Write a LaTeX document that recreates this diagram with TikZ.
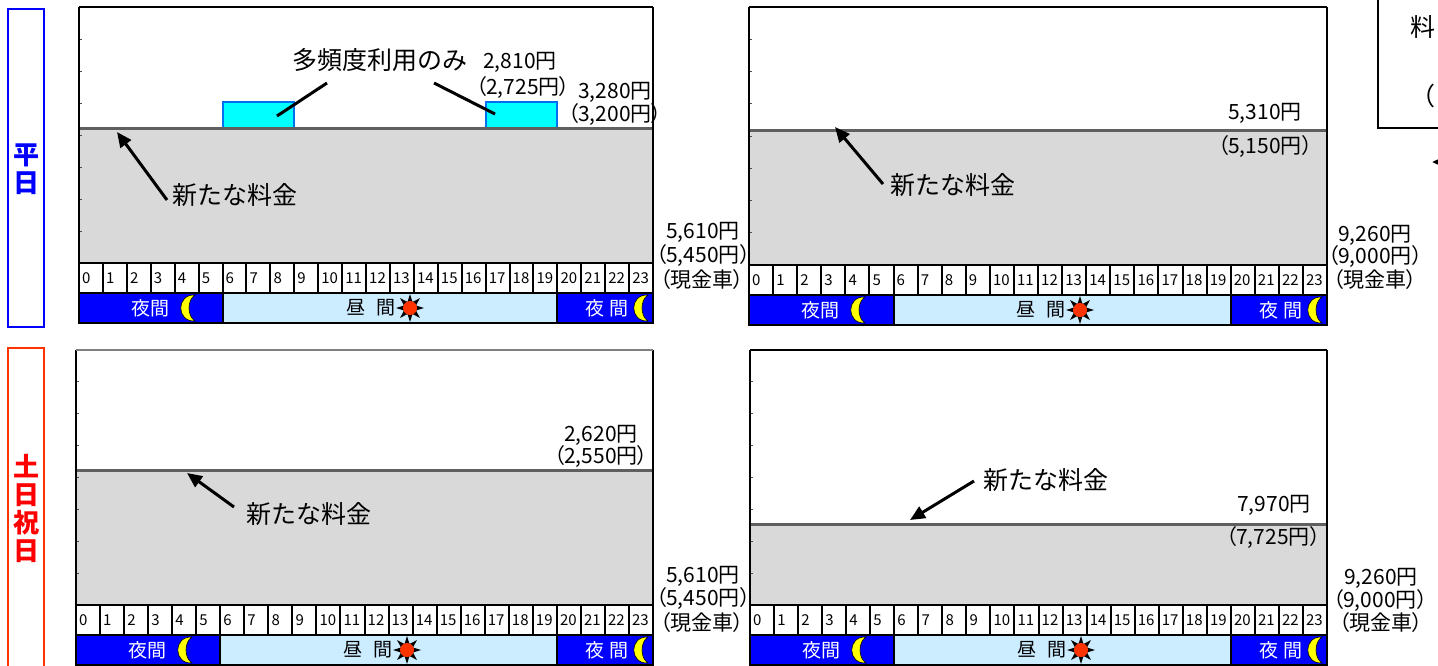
\documentclass[tikz,border=0pt]{standalone}
\usepackage{fontspec}
\setmainfont{Noto Sans CJK JP}
\newfontfamily\pfont[RawFeature=+palt]{Noto Sans CJK JP}
\usetikzlibrary{arrows.meta}
\definecolor{nightbl}{HTML}{0000FF}
\definecolor{daybl}{HTML}{CCECFF}
\definecolor{greyfill}{HTML}{D9D9D9}
\definecolor{greyline}{HTML}{5F5F5F}
\definecolor{cyanbox}{HTML}{00FFFF}
\definecolor{cyanedge}{HTML}{0070F0}
\definecolor{weekend}{HTML}{FF3300}
\definecolor{sunred}{HTML}{FF3300}
\definecolor{moonyel}{HTML}{FFFF00}
\tikzset{
  pframe/.style={draw=black, line width=2pt},
  cellln/.style={draw=black, line width=2pt},
  greyln/.style={draw=greyline, line width=3pt},
  tickst/.style={draw=black!70, line width=1pt},
  hournum/.style={anchor=west, inner sep=0pt, font=\fontsize{15}{17}\selectfont},
  bartext/.style={inner sep=0pt, font=\fontsize{19}{22}\selectfont},
  prc/.style={inner sep=0pt, font=\pfont\fontsize{21}{24}\selectfont},
  lbl/.style={anchor=west, inner sep=0pt, font=\fontsize{25}{28}\selectfont},
  callout/.style={draw=black, line width=3pt, -{Triangle[length=15pt,width=13pt]}},
  leader/.style={draw=black, line width=3pt},
  cyanbx/.style={fill=cyanbox, draw=cyanedge, line width=2pt},
  moon/.pic={
    \filldraw[fill=moonyel, draw=black, line width=0.6pt]
      (8,-13) .. controls (-11,-14) and (-11,14) .. (8,13)
      .. controls (0,8) and (0,-8) .. (8,-13) -- cycle;
  },
  sun/.pic={
    \fill[black] (0:14pt) -- (22.5:6.5pt) -- (45:14pt) -- (67.5:6.5pt) -- (90:14pt)
      -- (112.5:6.5pt) -- (135:14pt) -- (157.5:6.5pt) -- (180:14pt) -- (202.5:6.5pt)
      -- (225:14pt) -- (247.5:6.5pt) -- (270:14pt) -- (292.5:6.5pt) -- (315:14pt)
      -- (337.5:6.5pt) -- cycle;
    \fill[sunred] (0,0) circle (7pt);
  }
}
% #1 L, #2 R, #3 top, #4 grey line, #5 hour top, #6 hour bottom, #7 bar bottom, #8 prefix
\newcommand\farepanel[8]{%
  \pgfmathsetmacro\pcw{(#2-#1)/24}%
  \pgfmathsetmacro\phm{(#5+#6)/2}%
  \pgfmathsetmacro\pbm{(#6+#7)/2}%
  \fill[greyfill] (#1,#4) rectangle (#2,#5);
  \foreach \k in {1,...,7}{\draw[tickst] (#1,{#3+\k*(#5-#3)/8}) -- ++(3,0);}
  \fill[white] (#1,#5) rectangle (#2,#6);
  \fill[nightbl] (#1,#6) rectangle ({#1+6*\pcw},#7);
  \fill[daybl] ({#1+6*\pcw},#6) rectangle ({#1+20*\pcw},#7);
  \fill[nightbl] ({#1+20*\pcw},#6) rectangle (#2,#7);
  \draw[greyln] (#1,#4) -- (#2,#4);
  \draw[cellln] (#1,#5) -- (#2,#5) (#1,#6) -- (#2,#6);
  \foreach \h in {1,...,23}{\draw[cellln] ({#1+\h*\pcw},#5) -- ({#1+\h*\pcw},#6);}
  \draw[cellln] ({#1+6*\pcw},#6) -- ({#1+6*\pcw},#7) ({#1+20*\pcw},#6) -- ({#1+20*\pcw},#7);
  \draw[pframe] (#1,#3) -- (#1,#7) -- (#2,#7) -- (#2,#3);
  \foreach \h in {0,...,23}{\node[hournum] (#8h\h) at ({#1+\h*\pcw+3},\phm) {\h};}
  \node[bartext,text=white] (#8nA) at ({#1+71},\pbm) {夜間};
  \pic at ({#1+108},\pbm) {moon};
  \node[bartext] (#8day) at ({#1+292},\pbm) {昼\hspace{7pt} 間};
  \pic at ({#1+331},\pbm) {sun};
  \node[bartext,text=white] (#8nB) at ({#2-46},\pbm) {夜 間};
  \pic at ({#2-13},\pbm) {moon};
}
\begin{document}
\begin{tikzpicture}[x=1pt,y=-1pt]
\useasboundingbox (0,0) rectangle (1438,665);
\fill[white] (0,0) rectangle (1438,665);

% side labels
\draw[draw=nightbl, line width=2.5pt] (8,9) rectangle (44,327);
\node[inner sep=0pt, align=center, text=nightbl, font=\fontsize{26}{28}\selectfont\bfseries] (wkday) at (26,169) {平\\日};
\draw[draw=weekend, line width=2.5pt] (8,348) rectangle (44,672);
\node[inner sep=0pt, align=center, text=red, font=\fontsize{26}{28}\selectfont\bfseries] (wkend) at (26,508) {土\\日\\祝\\日};

% ---------- panel 1 ----------
\draw[cyanbx] ({79+6*574/24},102) rectangle ({79+9*574/24},128);
\draw[cyanbx] ({79+17*574/24},102) rectangle ({79+20*574/24},128);
\farepanel{79}{653}{7}{128}{263}{293}{323}{pa}
\draw[pframe] (79,7) -- (653,7);
\node[lbl] (freq) at (292,60) {多頻度利用のみ};
\coordinate (fqa) at (327,83); \coordinate (fqb) at (277,116);
\coordinate (fqc) at (434,83); \coordinate (fqd) at (495,114);
\draw[leader] (fqa) -- (fqb);
\draw[leader] (fqc) -- (fqd);
\node[prc] (pa1) at (520,62) {2,810円};
\node[prc] (pa2) at (523,88) {（2,725円）};
\node[prc] (pa3) at (615,92) {3,280円};
\node[prc] (pa4) at (615,115) {（3,200円）};
\node[lbl] (la) at (172,195) {新たな料金};
\coordinate (ta) at (117,132);
\draw[callout] ([shift={(-5,5)}]la.west) -- (ta);
\node[prc] (pa5) at (703,232) {5,610円};
\node[prc] (pa6) at (703,255) {（5,450円）};
\node[prc] (pa7) at (702,280) {（現金車）};

% ---------- panel 2 ----------
\farepanel{749}{1327}{7}{130}{265}{295}{325}{pb}
\draw[pframe] (749,7) -- (1327,7);
\node[prc] (pb1) at (1265,113) {5,310円};
\node[prc] (pb2) at (1265,147) {（5,150円）};
\node[lbl] (lb) at (890,185) {新たな料金};
\coordinate (tb) at (835,127);
\draw[callout] ([shift={(-7,-1)}]lb.west) -- (tb);
\node[prc] (pb3) at (1375,235) {9,260円};
\node[prc] (pb4) at (1375,257) {（9,000円）};
\node[prc] (pb5) at (1375,280) {（現金車）};

% ---------- panel 3 ----------
\farepanel{76}{653}{350}{470}{605}{635}{665}{pc}
\draw[draw=black!50, line width=2pt] (76,350) -- (653,350);
\node[prc] (pc1) at (601,435) {2,620円};
\node[prc] (pc2) at (601,456) {（2,550円）};
\node[lbl] (lc) at (246,514) {新たな料金};
\coordinate (tc) at (187,473);
\draw[callout] ([shift={(-12,-7)}]lc.west) -- (tc);
\node[prc] (pc3) at (703,576) {5,610円};
\node[prc] (pc4) at (703,598) {（5,450円）};
\node[prc] (pc5) at (702,623) {（現金車）};

% ---------- panel 4 ----------
\farepanel{750}{1327}{350}{524}{605}{635}{665}{pd}
\draw[pframe] (750,350) -- (1327,350);
\node[lbl] (ld) at (983,480) {新たな料金};
\coordinate (td) at (910,520);
\draw[callout] ([shift={(-9,1)}]ld.west) -- (td);
\node[prc] (pd1) at (1274,505) {7,970円};
\node[prc] (pd2) at (1273,537) {（7,725円）};
\node[prc] (pd3) at (1381,578) {9,260円};
\node[prc] (pd4) at (1380,600) {（9,000円）};
\node[prc] (pd5) at (1381,623) {（現金車）};

% ---------- cut-off box top right ----------
\draw[draw=black, line width=1.5pt] (1378,-5) rectangle (1470,128);
\node[lbl] (cut1) at (1410,27) {料};
\node[prc, font=\pfont\fontsize{25}{28}\selectfont] (cut2) at (1428,96) {（};
\coordinate (cutt) at (1432,162);
\draw[callout] (1475,162) -- (cutt);
\end{tikzpicture}
\end{document}
